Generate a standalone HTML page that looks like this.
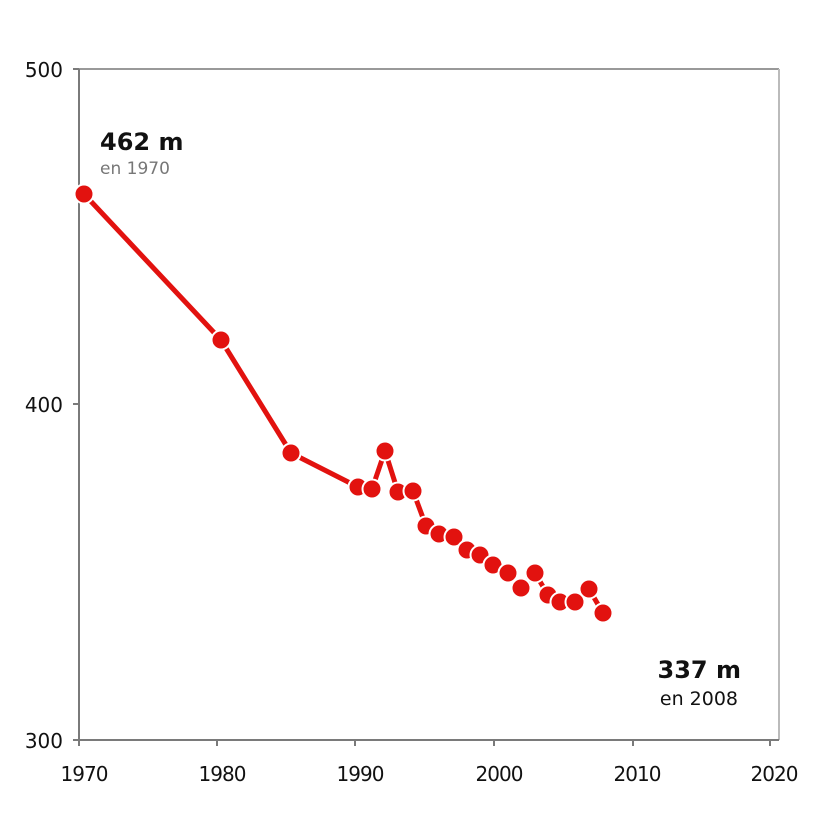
<!DOCTYPE html>
<html><head><meta charset="utf-8"><style>
html,body{margin:0;padding:0;background:#fff;}
svg{display:block;}
text{font-family:"DejaVu Sans","Liberation Sans",sans-serif;}
</style></head><body>
<svg width="826" height="830" viewBox="0 0 826 830" xmlns="http://www.w3.org/2000/svg">
<rect width="826" height="830" fill="#fff"/>
<g stroke="#7a7a7a" stroke-width="2" fill="none">
<line x1="79" y1="69" x2="779" y2="69" stroke="#999"/>
<line x1="779" y1="69" x2="779" y2="740" stroke="#bbb"/>
<line x1="79" y1="69" x2="79" y2="740"/>
<line x1="79" y1="740" x2="779" y2="740"/>
<line x1="73" y1="69" x2="79" y2="69"/>
<line x1="73" y1="404" x2="79" y2="404"/>
<line x1="73" y1="740" x2="79" y2="740"/>
<line x1="79" y1="740" x2="79" y2="746"/>
<line x1="217" y1="740" x2="217" y2="746"/>
<line x1="355" y1="740" x2="355" y2="746"/>
<line x1="494" y1="740" x2="494" y2="746"/>
<line x1="633" y1="740" x2="633" y2="746"/>
<line x1="770" y1="740" x2="770" y2="746"/>
</g>
<g font-size="20" fill="#111" text-anchor="end">
<text x="63" y="77">500</text>
<text x="63" y="412">400</text>
<text x="63" y="748">300</text>
</g>
<g font-size="20" fill="#111" text-anchor="middle" letter-spacing="-1">
<text x="84" y="781">1970</text>
<text x="222" y="781">1980</text>
<text x="360" y="781">1990</text>
<text x="499" y="781">2000</text>
<text x="637" y="781">2010</text>
<text x="774" y="781">2020</text>
</g>
<text x="100" y="150" font-size="24" font-weight="bold" fill="#111">462 m</text>
<text x="100" y="174" font-size="17" fill="#777">en 1970</text>
<text x="741" y="678" font-size="24" font-weight="bold" fill="#111" text-anchor="end">337 m</text>
<text x="738" y="705" font-size="19" fill="#111" text-anchor="end">en 2008</text>
<polyline fill="none" stroke="#e2120f" stroke-width="5" stroke-linejoin="round"
points="84,194 221,340 291,453 358,487 372,489 385,451 398,492 413,491 426,526 439,534 454,537 467,550 480,555 493,565 508,573 521,588 535,573 548,595 560,602 575,602 589,589 603,613"/>
<g fill="#e2120f" stroke="#fff" stroke-width="2">
<circle cx="84" cy="194" r="9.5"/><circle cx="221" cy="340" r="9.5"/><circle cx="291" cy="453" r="9.5"/>
<circle cx="358" cy="487" r="9.5"/><circle cx="372" cy="489" r="9.5"/><circle cx="385" cy="451" r="9.5"/>
<circle cx="398" cy="492" r="9.5"/><circle cx="413" cy="491" r="9.5"/><circle cx="426" cy="526" r="9.5"/>
<circle cx="439" cy="534" r="9.5"/><circle cx="454" cy="537" r="9.5"/><circle cx="467" cy="550" r="9.5"/>
<circle cx="480" cy="555" r="9.5"/><circle cx="493" cy="565" r="9.5"/><circle cx="508" cy="573" r="9.5"/>
<circle cx="521" cy="588" r="9.5"/><circle cx="535" cy="573" r="9.5"/><circle cx="548" cy="595" r="9.5"/>
<circle cx="560" cy="602" r="9.5"/><circle cx="575" cy="602" r="9.5"/><circle cx="589" cy="589" r="9.5"/>
<circle cx="603" cy="613" r="9.5"/>
</g>
</svg>
</body></html>
